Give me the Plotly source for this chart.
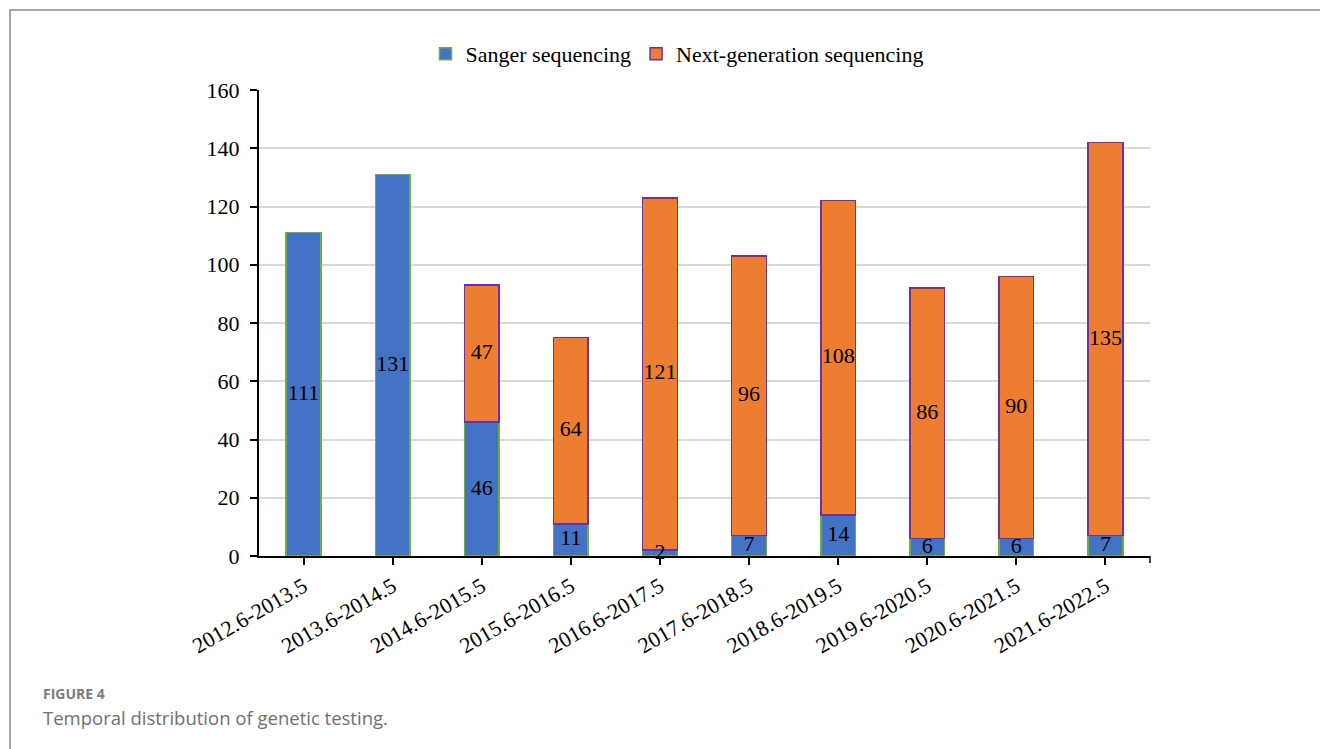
import plotly.graph_objects as go

categories = ["2012.6-2013.5", "2013.6-2014.5", "2014.6-2015.5", "2015.6-2016.5",
              "2016.6-2017.5", "2017.6-2018.5", "2018.6-2019.5", "2019.6-2020.5",
              "2020.6-2021.5", "2021.6-2022.5"]
sanger = [111, 131, 46, 11, 2, 7, 14, 6, 6, 7]
ngs = [0, 0, 47, 64, 121, 96, 108, 86, 90, 135]
y_ticks = [0, 20, 40, 60, 80, 100, 120, 140, 160]

W, H = 1320, 749
L, R, T, B = 259, 1150, 90, 556


def px_x(p):
    return (p - L) / (R - L)


def px_y(p):
    return (B - p) / (B - T)


SERIF = "Liberation Serif, Times New Roman, serif"

fig = go.Figure()
fig.add_trace(go.Bar(
    x=categories, y=sanger, name="Sanger sequencing",
    marker=dict(color="#4472C4", line=dict(color="#70AD47", width=1.5)),
    width=0.39,
))
fig.add_trace(go.Bar(
    x=categories, y=[v if v else None for v in ngs], name="Next-generation sequencing",
    marker=dict(color="#ED7D31", line=dict(color="#7030A0", width=1.5)),
    width=0.39,
))

# data labels centred in each segment
lab_x, lab_y, lab_t = [], [], []
for c, s, n in zip(categories, sanger, ngs):
    lab_x.append(c); lab_y.append(s / 2); lab_t.append(str(s))
    if n:
        lab_x.append(c); lab_y.append(s + n / 2); lab_t.append(str(n))
fig.add_trace(go.Scatter(
    x=lab_x, y=lab_y, text=lab_t, mode="text", showlegend=False,
    textfont=dict(family=SERIF, size=22, color="#000000"),
    textposition="middle center", cliponaxis=False, hoverinfo="skip",
))

fig.update_layout(
    barmode="stack",
    width=W, height=H,
    margin=dict(l=L, r=W - R, t=T, b=H - B),
    paper_bgcolor="white", plot_bgcolor="white",
    font=dict(family=SERIF, size=22, color="#000000"),
    legend=dict(orientation="h", x=px_x(677), xanchor="center", y=px_y(54), yanchor="middle",
                font=dict(family=SERIF, size=22, color="#000000"),
                itemwidth=30, traceorder="normal", bgcolor="rgba(0,0,0,0)"),
    showlegend=True,
)
fig.update_xaxes(
    type="category", showline=True, linecolor="#000000", linewidth=2,
    ticks="outside", ticklen=7, tickwidth=1.5, tickcolor="#000000",
    tickangle=-30, tickfont=dict(family=SERIF, size=22, color="#000000"),
    showgrid=False, zeroline=False,
)
fig.update_yaxes(
    range=[0, 160], tickvals=y_ticks, showline=True, linecolor="#000000", linewidth=2,
    ticks="outside", ticklen=7, tickwidth=1.5, tickcolor="#000000",
    tickfont=dict(family=SERIF, size=22, color="#000000"), ticklabelstandoff=6,
    showgrid=True, gridcolor="#d9d9d9", gridwidth=1.5, zeroline=False,
)

# end tick of the category axis
fig.add_shape(type="line", xref="paper", yref="paper", x0=1, x1=1, y0=0, y1=px_y(563),
              line=dict(color="#000000", width=1.5))

# outer figure frame
fig.add_shape(type="rect", xref="paper", yref="paper",
              x0=px_x(10), y0=px_y(760), x1=px_x(1330), y1=px_y(10),
              line=dict(color="#8c8c8c", width=1.5), fillcolor="rgba(0,0,0,0)", layer="below")

fig.add_annotation(xref="paper", yref="paper", x=px_x(41), y=px_y(693), xanchor="left", yanchor="middle",
                   text="<b>FIGURE 4</b>", showarrow=False,
                   font=dict(family="Open Sans, Lato, sans-serif", size=14, color="#7a7a7a"))
fig.add_annotation(xref="paper", yref="paper", x=px_x(41), y=px_y(717), xanchor="left", yanchor="middle",
                   text="Temporal distribution of genetic testing.", showarrow=False,
                   font=dict(family="Open Sans, Lato, sans-serif", size=18.5, color="#707070"))

fig.write_html("out.html")
